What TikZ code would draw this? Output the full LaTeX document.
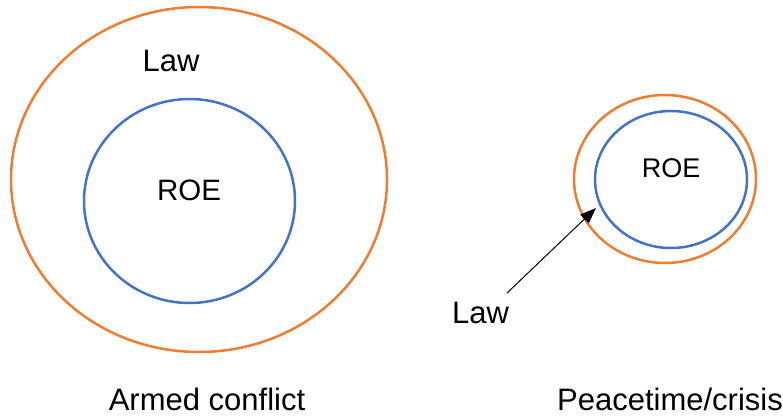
\documentclass[tikz,border=0pt]{standalone}
\usepackage{fontspec}
\setmainfont{Liberation Sans}
\usetikzlibrary{shapes.geometric,arrows.meta}
\definecolor{laworange}{HTML}{ED7D31}
\definecolor{roeblue}{HTML}{4472C4}
\begin{document}
\begin{tikzpicture}[y=1pt, x=1pt, yscale=-1, inner sep=0pt, outer sep=0pt,
  lawring/.style={ellipse,draw=laworange,line width=2.5pt},
  roering/.style={ellipse,draw=roeblue,line width=2.5pt},
  lbl/.style={anchor=base,font=\fontsize{31}{36}\selectfont}]
\useasboundingbox (0,0) rectangle (783,415);
% armed conflict
\node[lawring,minimum width=376pt,minimum height=345pt] (lawA) at (199,179.5) {};
\node[roering,minimum width=211pt,minimum height=204pt] (roeA) at (189.5,201) {};
\node[lbl] (lawAtxt) at (171,71) {Law};
\node[lbl,font=\fontsize{29.5}{35}\selectfont] (roeAtxt) at (189,200) {ROE};
\node[lbl] (capA) at (207,410) {Armed conflict};
% peacetime/crisis
\node[lawring,minimum width=182pt,minimum height=168pt] (lawP) at (665,179) {};
\node[roering,minimum width=152pt,minimum height=137pt] (roeP) at (671,179.5) {};
\node[lbl,font=\fontsize{27}{32}\selectfont] (roePtxt) at (671,177) {ROE};
\node[lbl] (lawPtxt) at (480.5,323) {Law};
\node[lbl] (capP) at (670,410) {Peacetime/crisis};
\coordinate (tail) at (507,293);
\coordinate (tip) at (596,208);
\draw[line width=1pt,-{Triangle[length=16pt,width=12pt]}] (tail) -- (tip);
\end{tikzpicture}
\end{document}
